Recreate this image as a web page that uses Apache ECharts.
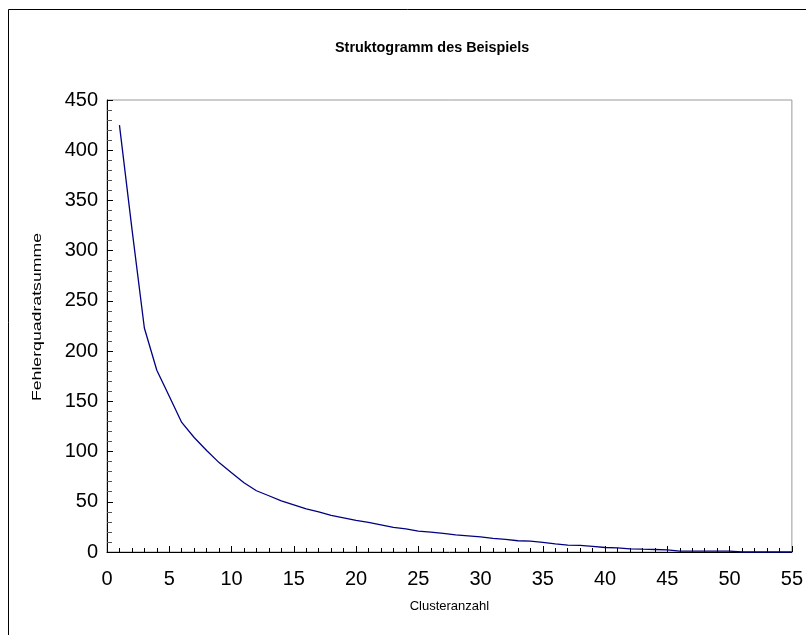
<!DOCTYPE html>
<html>
<head>
<meta charset="utf-8">
<script src="https://cdn.jsdelivr.net/npm/echarts@6/dist/echarts.min.js"></script>
<style>
  html, body { margin: 0; padding: 0; background: #fff; }
  #chart { width: 806px; height: 635px; }
</style>
</head>
<body>
<div id="chart"></div>
<script>
// cluster count 1..55 and the error sum of squares
var clusters = [];
for (var i = 1; i <= 55; i++) clusters.push(i);
var sse = [425, 322, 223, 181, 155, 129, 114, 101, 89, 79,
           69, 61, 56, 51, 47, 43, 40, 36.5, 34, 31.5,
           29.5, 27, 24.5, 23, 20.7, 19.7, 18.5, 17, 16, 15,
           13.5, 12.5, 11.2, 10.8, 9.5, 8, 6.8, 6.5, 5.5, 4.5,
           4.2, 3.2, 2.8, 2.5, 2.2, 0.8, 0.8, 0.8, 0.8, 0.8,
           0, 0, 0, 0, 0];

var chart = echarts.init(document.getElementById('chart'));

var fontFam = 'Liberation Sans, Arial, sans-serif';

chart.setOption({
  animation: false,
  title: {
    text: 'Struktogramm des Beispiels',
    left: 330,
    top: 36,
    textStyle: { fontFamily: fontFam, fontSize: 14.4, fontWeight: 'bold', color: '#000' }
  },
  graphic: [{
    type: 'rect',
    shape: { x: 8.5, y: 9.5, width: 820, height: 700 },
    style: { fill: null, stroke: '#000', lineWidth: 1 },
    silent: true
  }, {
    // y axis title, stretched along its length like the original
    type: 'text',
    x: 37, y: 317,
    rotation: Math.PI / 2,
    scaleX: 1.36,
    style: {
      text: 'Fehlerquadratsumme',
      font: '13px Liberation Sans, Arial, sans-serif',
      fill: '#000',
      align: 'center',
      verticalAlign: 'middle'
    },
    silent: true
  }],
  grid: {
    left: 107, right: 14, top: 100, bottom: 83,
    show: true, borderColor: '#999', borderWidth: 1
  },
  xAxis: {
    type: 'value',
    min: 0, max: 55, interval: 5,
    name: 'Clusteranzahl',
    nameLocation: 'middle',
    nameGap: 48,
    nameTextStyle: { fontFamily: fontFam, fontSize: 13, color: '#000' },
    axisLine: { lineStyle: { color: '#000', width: 1 } },
    axisTick: { inside: true, length: 6, lineStyle: { color: '#000' } },
    minorTick: { show: true, splitNumber: 5, length: 4, lineStyle: { color: '#000' } },
    splitLine: { show: false },
    axisLabel: { fontFamily: fontFam, fontSize: 20, color: '#000', margin: 17 }
  },
  yAxis: {
    type: 'value',
    min: 0, max: 450, interval: 50,
    axisLine: { show: true, lineStyle: { color: '#000', width: 1 } },
    axisTick: { show: true, inside: true, length: 6, lineStyle: { color: '#000' } },
    minorTick: { show: true, splitNumber: 5, length: 5, lineStyle: { color: '#555' } },
    splitLine: { show: false },
    axisLabel: { fontFamily: fontFam, fontSize: 20, color: '#000', margin: 9 }
  },
  series: [{
    type: 'line',
    data: clusters.map(function (c, k) { return [c, sse[k]]; }),
    showSymbol: false,
    lineStyle: { color: '#000080', width: 1.3 },
    clip: false
  }]
});
</script>
</body>
</html>
